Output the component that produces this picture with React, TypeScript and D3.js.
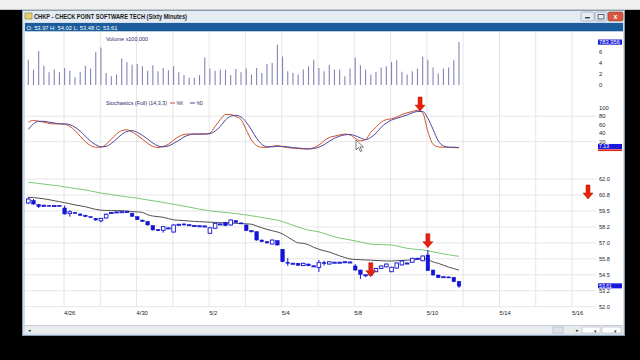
import React from "react";
import * as d3 from "d3";

// ---------- DATA ----------
const dayLabels = ["4/26","4/27","4/30","5/1","5/2","5/3","5/4","5/7","5/8","5/9","5/10","5/11","5/14","5/15","5/16"];

const volume = [4.6,2.8,6.2,3.5,2.3,2.8,2.3,3.1,2.6,1.4,2.3,3.5,3.0,6.0,6.8,2.2,1.6,1.9,4.8,4.2,3.7,3.8,3.4,2.6,3.6,2.5,3.1,2.7,3.4,2.3,1.8,1.3,1.3,1.8,5.0,3.0,2.6,2.8,2.8,1.8,2.9,2.3,3.0,1.9,3.1,2.2,3.8,4.0,7.3,5.2,2.5,2.2,1.9,2.8,3.4,4.6,3.1,2.5,3.7,2.8,2.8,1.6,3.0,5.0,3.6,2.8,1.9,2.4,3.2,3.4,4.2,4.5,2.4,1.9,2.5,3.0,5.2,4.6,3.2,2.1,3.0,3.2,4.5,7.8];

const pctK = [66,70,68,66,63,62,62,61,56,46,33,20,11,7,7,14,26,38,46,48,43,35,26,16,9,6,9,14,24,32,37,38,38,38,38,40,56,72,84,84,79,72,48,24,11,7,7,9,11,8,6,5,4,3,3,6,12,22,30,33,36,38,36,28,22,25,42,54,66,72,74,78,84,88,91,94,88,44,14,8,7,7,6,6];
const pctD = [49,62,68,68,66,64,62,62,60,54,45,33,21,13,8,9,16,26,37,44,46,42,35,26,17,10,8,10,16,23,31,36,38,38,38,39,45,56,71,80,82,78,66,48,28,14,8,8,9,9,8,6,5,4,3,4,7,13,21,28,33,36,37,34,29,25,30,40,54,64,71,75,79,83,88,91,91,75,49,22,10,7,7,6];

const opens = [60.12,60.32,60.0,59.86,59.93,59.92,59.92,59.73,59.30,59.37,59.26,59.16,59.05,58.92,58.72,58.95,59.36,59.42,59.44,59.44,59.32,59.05,58.78,58.67,58.35,58.05,57.98,58.16,57.85,58.44,58.48,58.42,58.36,58.34,58.32,57.75,58.14,58.48,58.60,58.40,58.74,58.56,58.40,57.96,57.87,57.22,57.09,56.91,57.17,56.50,55.48,55.40,55.40,55.22,55.34,55.20,55.08,55.45,55.34,55.48,55.48,55.52,55.50,55.19,54.87,54.48,54.48,54.74,55.00,55.12,54.74,55.03,55.27,55.42,55.48,55.79,55.60,56.05,54.87,54.48,54.34,54.33,54.30,53.97];
const closes = [60.43,60.04,59.84,59.94,59.92,59.92,59.90,59.26,59.44,59.36,59.16,59.06,59.03,58.79,58.92,59.24,59.38,59.42,59.44,59.45,59.08,58.82,58.68,58.40,58.01,57.95,58.27,58.17,58.40,58.45,58.40,58.42,58.36,58.34,58.32,58.18,58.53,58.48,58.35,58.79,58.60,58.55,57.96,57.86,57.22,57.09,56.99,57.22,56.83,55.52,55.47,55.40,55.24,55.40,55.21,55.20,55.45,55.44,55.52,55.48,55.48,55.52,55.50,54.87,54.53,54.50,54.74,55.00,55.19,55.34,55.09,55.42,55.58,55.42,55.79,55.79,55.97,54.82,54.48,54.27,54.35,54.30,53.96,53.61];
const highs = [60.59,60.43,60.04,60.00,59.96,59.96,59.95,59.92,59.55,59.42,59.30,59.20,59.08,58.95,58.95,59.30,59.42,59.46,59.48,59.49,59.36,59.08,58.82,58.70,58.38,58.08,58.30,58.21,58.45,58.49,58.52,58.46,58.40,58.38,58.36,58.20,58.57,58.52,58.64,58.83,58.76,58.60,58.44,57.99,57.90,57.26,57.12,57.26,57.20,56.52,55.80,55.44,55.43,55.44,55.38,55.24,55.66,55.60,55.56,55.52,55.52,55.56,55.54,55.34,54.90,54.52,54.78,55.04,55.22,55.38,55.12,55.46,55.62,55.46,55.83,55.83,56.01,56.44,54.90,54.50,54.38,54.36,54.33,54.02];
const lows = [60.04,59.98,59.73,59.83,59.88,59.88,59.87,59.22,59.05,59.30,59.12,59.02,58.99,58.72,58.60,58.90,59.33,59.38,59.40,59.40,59.04,58.78,58.64,58.36,57.97,57.91,57.80,58.12,57.80,58.40,58.36,58.38,58.32,58.30,58.28,57.70,58.10,58.44,58.31,58.36,58.56,58.51,57.92,57.82,57.18,57.05,56.95,56.87,56.79,55.48,55.20,55.36,55.20,55.18,55.17,55.16,54.72,55.22,55.30,55.44,55.44,55.48,55.46,54.83,54.17,54.33,54.44,54.70,54.96,55.08,54.70,54.99,55.23,55.38,55.44,55.75,55.56,54.80,54.44,54.23,54.30,54.26,53.92,53.48];

const smaBlack = [60.57,60.54,60.5,60.45,60.38,60.3,60.22,60.15,60.06,59.97,59.9,59.83,59.72,59.62,59.56,59.54,59.53,59.53,59.52,59.5,59.45,59.42,59.38,59.2,59.1,59.05,59.0,58.9,58.8,58.77,58.74,58.71,58.68,58.66,58.64,58.62,58.6,58.58,58.56,58.55,58.53,58.51,58.49,58.46,58.32,58.18,58.05,57.95,57.85,57.7,57.45,57.2,57.0,56.96,56.85,56.65,56.5,56.38,56.28,56.13,55.98,55.85,55.74,55.7,55.68,55.66,55.64,55.62,55.6,55.58,55.58,55.6,55.62,55.64,55.66,55.7,55.78,55.7,55.5,55.4,55.25,55.1,54.98,54.87];
const smaGreen = [61.74,61.7,61.65,61.6,61.55,61.5,61.45,61.38,61.32,61.26,61.2,61.14,61.06,60.98,60.9,60.84,60.78,60.72,60.66,60.6,60.55,60.5,60.42,60.36,60.3,60.23,60.16,60.09,60.02,59.95,59.88,59.8,59.72,59.64,59.57,59.5,59.46,59.42,59.38,59.34,59.29,59.24,59.18,59.12,59.06,58.99,58.92,58.85,58.78,58.66,58.52,58.38,58.24,58.1,58.0,57.93,57.86,57.74,57.6,57.48,57.37,57.3,57.23,57.15,57.06,56.98,56.9,56.88,56.86,56.85,56.83,56.76,56.66,56.57,56.52,56.48,56.45,56.38,56.3,56.22,56.14,56.07,56.0,55.95];

const priceTicks = ["62.0","60.8","59.5","58.2","57.0","55.8","54.5","53.2","52.0"];
const priceTickValues = [62, 60.75, 59.5, 58.25, 57, 55.75, 54.5, 53.25, 52];
const volTicks = [0, 2, 4, 6];
const stochTicks = [100, 80, 60, 40, 20];

const priceArrows = [{ i: 66, v: 54.35 }, { i: 77, v: 56.62 }];
const stochArrows = [{ i: 75.5, v: 92 }];

const title = "CHKP - CHECK POINT SOFTWARE TECH (Sixty Minutes)";
const ohlcText = "O: 53.97   H: 54.02   L: 53.48   C: 53.61";
const lastVolText = "783,956";
const lastStochText = "7.13";
const lastPriceText = "53.61";
const lastPrice = 53.61;
const lastVol = 7.8;
const lastStoch = 7.13;

// ---------- SCALES ----------
const xBar = d3.scaleLinear().domain([0, 83]).range([28.3, 459]);
const xDay = d3.scaleLinear().domain([0, 14]).range([64, 572]);
const yVol = d3.scaleLinear().domain([0, 6]).range([85, 52]);
const yStoch = d3.scaleLinear().domain([0, 100]).range([150.2, 107.7]);
const yPrice = d3.scaleLinear().domain([52, 62]).range([306.7, 179]);

const FONT = "'Liberation Sans', Arial, sans-serif";
const BLUE = "#1414d4";
const GRID = "#e6e6e6";
const LABEL = "#2a2a6a";

function Arrow({ x, y }: { x: number; y: number }) {
  const p = d3.path();
  p.moveTo(x, y);
  p.lineTo(x - 5, y - 6);
  p.lineTo(x - 2, y - 6);
  p.lineTo(x - 2, y - 14);
  p.lineTo(x + 2, y - 14);
  p.lineTo(x + 2, y - 6);
  p.lineTo(x + 5, y - 6);
  p.closePath();
  return <path d={p.toString()} fill="#e8200c" stroke="#b01000" strokeWidth={0.5} />;
}

export default function App() {
  const idx = d3.range(opens.length);
  const lineK = d3.line<number>().x((i) => xBar(i)).y((i) => yStoch(pctK[i])).curve(d3.curveMonotoneX);
  const lineD = d3.line<number>().x((i) => xBar(i)).y((i) => yStoch(pctD[i])).curve(d3.curveMonotoneX);
  const lineB = d3.line<number>().x((i) => xBar(i)).y((i) => yPrice(smaBlack[i])).curve(d3.curveMonotoneX);
  const lineG = d3.line<number>().x((i) => xBar(i)).y((i) => yPrice(smaGreen[i])).curve(d3.curveMonotoneX);
  const bw = 3.6;

  return (
    <svg width={640} height={360} style={{ position: "absolute", left: 0, top: 0, background: "#000" }} fontFamily={FONT}>
      <rect x={0} y={0} width={640} height={360} fill="#000" />
      {/* top strip */}
      <rect x={0} y={0} width={640} height={9} fill="#efefef" />
      <rect x={0} y={9} width={640} height={1} fill="#c8c8c8" />
      {/* window frame */}
      <rect x={22} y={10} width={603} height={326} fill="#d3dde9" />
      <rect x={22.5} y={10.5} width={602} height={325} fill="none" stroke="#8a9cb0" />
      {/* title bar */}
      <rect x={23} y={11} width={601} height={11} fill="#e4ebf3" />
      <rect x={25} y={13} width={7} height={6} fill="#e8d070" stroke="#708040" strokeWidth={0.6} />
      <text x={34} y={19.3} fontSize={6.8} fontWeight="bold" fill="#1a1a1a" textLength={153} lengthAdjust="spacingAndGlyphs">{title}</text>
      {/* window buttons */}
      <rect x={581} y={12} width={13} height={9} rx={1.5} fill="#e6ecf3" stroke="#8090a8" strokeWidth={0.6} />
      <rect x={585} y={17} width={5} height={1.5} fill="#404850" />
      <rect x={595} y={12} width={12} height={9} rx={1.5} fill="#e6ecf3" stroke="#8090a8" strokeWidth={0.6} />
      <rect x={598} y={14.5} width={6} height={4.5} fill="none" stroke="#404850" strokeWidth={0.8} />
      <rect x={608} y={12} width={15} height={9} rx={1.5} fill="#d9553c" stroke="#904030" strokeWidth={0.6} />
      <text x={615.5} y={19.3} fontSize={7} fontWeight="bold" fill="#fff" textAnchor="middle">x</text>
      {/* info bar */}
      <rect x={25} y={23} width={598} height={8.5} fill="#1b5c9c" />
      <text x={26.5} y={29.6} fontSize={6} fill="#ffffff" textLength={91} lengthAdjust="spacingAndGlyphs">{ohlcText}</text>
      {/* chart area */}
      <rect x={25} y={31.5} width={598} height={294} fill="#ffffff" />

      {/* vertical grid */}
      {dayLabels.map((d, k) => (
        <line key={"vg" + k} x1={xDay(k)} x2={xDay(k)} y1={32} y2={yPrice(52)} stroke={GRID} strokeWidth={1} />
      ))}
      {priceTickValues.map((v, k) => (
        <line key={"pg" + k} x1={25} x2={596} y1={yPrice(v)} y2={yPrice(v)} stroke={GRID} strokeWidth={1} />
      ))}
      {[80, 20].map((v) => (
        <line key={"sg" + v} x1={25} x2={596} y1={yStoch(v)} y2={yStoch(v)} stroke={GRID} strokeWidth={1} />
      ))}

      {/* volume */}
      <text x={106} y={40.5} fontSize={5.6} fill={LABEL} textLength={42} lengthAdjust="spacingAndGlyphs">Volume x100,000</text>
      {volume.map((v, i) => (
        <line key={"v" + i} x1={xBar(i)} x2={xBar(i)} y1={yVol(0)} y2={yVol(v)} stroke="#8484b8" strokeWidth={1.1} />
      ))}
      {volTicks.map((t) => (
        <text key={"vt" + t} x={599} y={yVol(t) + 2} fontSize={5.8} fill="#222">{t}</text>
      ))}
      <rect x={598} y={yVol(lastVol) - 2.6} width={24} height={5.2} fill="#1a1ad8" />
      <text x={599} y={yVol(lastVol) + 1.8} fontSize={5.2} fill="#fff" textLength={21} lengthAdjust="spacingAndGlyphs">{lastVolText}</text>

      {/* stochastics */}
      <text x={106} y={104.8} fontSize={5.6} fill={LABEL} textLength={61} lengthAdjust="spacingAndGlyphs">Stochastics (Full) (14,3,3)</text>
      <line x1={170} x2={175} y1={103} y2={103} stroke="#d0502c" strokeWidth={1} />
      <text x={176.5} y={104.8} fontSize={5.6} fill={LABEL} textLength={6.5} lengthAdjust="spacingAndGlyphs">%K</text>
      <line x1={190} x2={195} y1={103} y2={103} stroke="#4a44a0" strokeWidth={1} />
      <text x={196.5} y={104.8} fontSize={5.6} fill={LABEL} textLength={6.5} lengthAdjust="spacingAndGlyphs">%D</text>
      <path d={lineK(idx) || ""} fill="none" stroke="#d0502c" strokeWidth={1} />
      <path d={lineD(idx) || ""} fill="none" stroke="#4a44a0" strokeWidth={1} />
      {stochTicks.map((t) => (
        <text key={"st" + t} x={599} y={yStoch(t) + 2} fontSize={5.8} fill="#222">{t}</text>
      ))}
      <rect x={598} y={yStoch(lastStoch) - 3.2} width={24} height={5.2} fill="#1a1ad8" />
      <text x={599} y={yStoch(lastStoch) + 1.2} fontSize={5.2} fill="#fff">{lastStochText}</text>
      <rect x={598} y={yStoch(lastStoch) + 2.3} width={24} height={1.6} fill="#e02010" />
      {stochArrows.map((a, k) => (
        <Arrow key={"sa" + k} x={xBar(a.i)} y={yStoch(a.v)} />
      ))}

      {/* price */}
      <path d={lineG(idx) || ""} fill="none" stroke="#78c878" strokeWidth={1} />
      <path d={lineB(idx) || ""} fill="none" stroke="#505050" strokeWidth={1} />
      {idx.map((i) => {
        const o = opens[i], c = closes[i];
        const x = xBar(i);
        const top = yPrice(Math.max(o, c));
        const bot = yPrice(Math.min(o, c));
        const h = Math.max(bot - top, 1);
        const up = c >= o;
        return (
          <g key={"c" + i}>
            <line x1={x} x2={x} y1={yPrice(highs[i])} y2={yPrice(lows[i])} stroke={BLUE} strokeWidth={1} />
            <rect x={x - bw / 2} y={top} width={bw} height={h} fill={up ? "#ffffff" : BLUE} stroke={BLUE} strokeWidth={up ? 0.9 : 0.5} />
          </g>
        );
      })}
      {priceArrows.map((a, k) => (
        <Arrow key={"pa" + k} x={xBar(a.i)} y={yPrice(a.v)} />
      ))}
      {priceTicks.map((t, k) => (
        <text key={"pt" + k} x={599} y={yPrice(priceTickValues[k]) + (t === "53.2" ? 2.6 : 2)} fontSize={5.6} fill="#222">{t}</text>
      ))}
      <rect x={598} y={yPrice(lastPrice) - 2.8} width={24} height={5} fill="#1a1ad8" />
      <text x={599} y={yPrice(lastPrice) + 1.6} fontSize={5.2} fill="#fff">{lastPriceText}</text>
      <Arrow x={588} y={199} />

      {/* date labels */}
      {dayLabels.map((d, k) =>
        k % 2 === 0 ? (
          <text key={"dl" + k} x={xDay(k)} y={315} fontSize={5.8} fill="#222">{d}</text>
        ) : null
      )}

      {/* mouse cursor */}
      <path d="M356,140 L356,150 L358.5,147.5 L360.5,151.5 L362,150.8 L360,147 L363.5,147 Z" fill="#fff" stroke="#222" strokeWidth={0.6} />

      {/* scrollbar */}
      <rect x={25} y={325.5} width={598} height={8} fill="#e9ecef" />
      <line x1={25} x2={623} y1={325.5} y2={325.5} stroke="#c9ced6" />
      <text x={28} y={332} fontSize={5} fill="#333">◂</text>
      <rect x={553} y={327} width={10} height={6} fill="#dde2e8" stroke="#a0a8b2" strokeWidth={0.5} />
      <text x={576} y={332} fontSize={5} fill="#333">▸</text>
      <rect x={582} y={327} width={18} height={6} fill="#fff" stroke="#a0a8b2" strokeWidth={0.5} />
      <text x={594} y={332.5} fontSize={5} fill="#333">▾</text>
      <rect x={602} y={327} width={19} height={6} fill="#fff" stroke="#a0a8b2" strokeWidth={0.5} />
      <text x={614} y={332.5} fontSize={5} fill="#333">▾</text>
    </svg>
  );
}
